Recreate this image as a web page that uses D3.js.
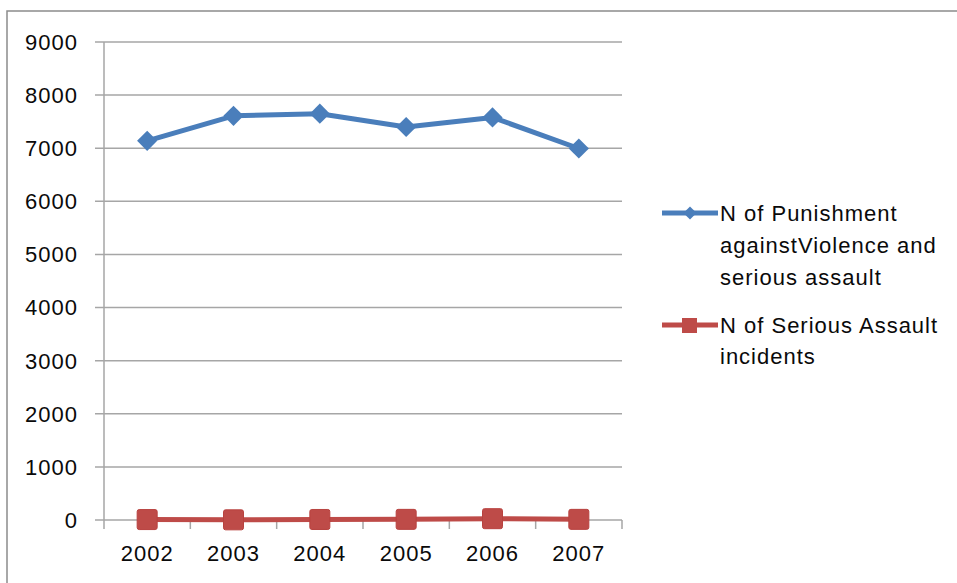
<!DOCTYPE html>
<meta charset='utf-8'>
<style>
  body { margin: 0; background: #fff; }
  svg { display: block; font-family: 'Liberation Sans', Arial, sans-serif; }
  .tickText { font-size: 22px; fill: #0a0a0a; letter-spacing: 1px; }
  .legendText { font-size: 22px; fill: #0a0a0a; letter-spacing: 1px; }
  .grid line { stroke: #a6a6a6; stroke-width: 1.5px; }
</style>
<body>
<div id='viz'></div>
<script src='https://d3js.org/d3.v7.min.js'></script>
<script>

// Data
var years = ['2002', '2003', '2004', '2005', '2006', '2007'];
var punishment = [7140, 7610, 7650, 7400, 7580, 6995];
var assault = [8, 3, 10, 12, 25, 12];
var yTicks = [0, 1000, 2000, 3000, 4000, 5000, 6000, 7000, 8000, 9000];
var seriesNames = [
  ['N of Punishment', 'againstViolence and', 'serious assault'],
  ['N of Serious Assault', 'incidents']
];

var W = 957, H = 583;
var plot = {left: 104, right: 622, top: 42, bottom: 520};

var svg = d3.select('#viz').append('svg')
    .attr('width', W)
    .attr('height', H);

// outer chart frame
svg.append('rect')
    .attr('x', 7).attr('y', 11)
    .attr('width', W + 10).attr('height', H + 10)
    .attr('fill', 'none')
    .attr('stroke', '#8c8c8c')
    .attr('stroke-width', 1.5);

var x = d3.scaleBand().domain(years).range([plot.left, plot.right]);
var y = d3.scaleLinear().domain([0, 9000]).range([plot.bottom, plot.top]);

// gridlines
svg.append('g')
    .attr('class', 'grid')
    .selectAll('line')
    .data(yTicks)
    .enter().append('line')
    .attr('x1', plot.left - 9)
    .attr('x2', plot.right)
    .attr('y1', function(d) { return y(d); })
    .attr('y2', function(d) { return y(d); });

// y axis line
svg.append('line')
    .attr('x1', plot.left).attr('x2', plot.left)
    .attr('y1', plot.top).attr('y2', plot.bottom)
    .attr('stroke', '#a6a6a6').attr('stroke-width', 1.5);

// y tick labels
svg.append('g')
    .selectAll('text')
    .data(yTicks)
    .enter().append('text')
    .attr('class', 'tickText')
    .attr('x', 78)
    .attr('y', function(d) { return y(d); })
    .attr('dy', '0.36em')
    .attr('text-anchor', 'end')
    .text(function(d) { return d; });

// x axis ticks at category boundaries
var bounds = years.map(function(d) { return x(d); }).concat([plot.right]);
svg.append('g')
    .selectAll('line')
    .data(bounds)
    .enter().append('line')
    .attr('x1', function(d) { return d; })
    .attr('x2', function(d) { return d; })
    .attr('y1', plot.bottom)
    .attr('y2', plot.bottom + 9)
    .attr('stroke', '#a6a6a6').attr('stroke-width', 1.5);

// x labels
svg.append('g')
    .selectAll('text')
    .data(years)
    .enter().append('text')
    .attr('class', 'tickText')
    .attr('x', function(d) { return x(d) + x.bandwidth() / 2; })
    .attr('y', 553)
    .attr('dy', '0.36em')
    .attr('text-anchor', 'middle')
    .text(function(d) { return d; });

var cx = function(d, i) { return x(years[i]) + x.bandwidth() / 2; };

var line = d3.line()
    .x(function(d, i) { return cx(d, i); })
    .y(function(d) { return y(d); });

// blue series
svg.append('path')
    .datum(punishment)
    .attr('d', line)
    .attr('fill', 'none')
    .attr('stroke', '#4a7ebb')
    .attr('stroke-width', 5)
    .attr('stroke-linejoin', 'round');

svg.append('g')
    .selectAll('path')
    .data(punishment)
    .enter().append('path')
    .attr('d', d3.symbol().type(d3.symbolDiamond2).size(260))
    .attr('transform', function(d, i) { return 'translate(' + cx(d, i) + ',' + y(d) + ')'; })
    .attr('fill', '#4a7ebb');

// red series
svg.append('path')
    .datum(assault)
    .attr('d', line)
    .attr('fill', 'none')
    .attr('stroke', '#be4b48')
    .attr('stroke-width', 5);

svg.append('g')
    .selectAll('rect')
    .data(assault)
    .enter().append('rect')
    .attr('x', function(d, i) { return cx(d, i) - 10; })
    .attr('y', function(d) { return y(d) - 10; })
    .attr('width', 20).attr('height', 20)
    .attr('rx', 2)
    .attr('fill', '#be4b48')
    .attr('stroke', '#b8423f')
    .attr('stroke-width', 1);

// legend
var legendY = [213, 325];
var colors = ['#4a7ebb', '#be4b48'];
var legend = svg.append('g');

legend.selectAll('line')
    .data(legendY)
    .enter().append('line')
    .attr('x1', 662).attr('x2', 718)
    .attr('y1', function(d) { return d; })
    .attr('y2', function(d) { return d; })
    .attr('stroke', function(d, i) { return colors[i]; })
    .attr('stroke-width', 5);

legend.append('path')
    .attr('d', d3.symbol().type(d3.symbolDiamond2).size(110))
    .attr('transform', 'translate(690,' + legendY[0] + ')')
    .attr('fill', colors[0]);

legend.append('rect')
    .attr('x', 682).attr('y', legendY[1] - 7)
    .attr('width', 15).attr('height', 15)
    .attr('fill', colors[1]);

seriesNames.forEach(function(lines, s) {
  legend.append('g')
    .selectAll('text')
    .data(lines)
    .enter().append('text')
    .attr('class', 'legendText')
    .attr('x', 720)
    .attr('y', function(d, i) { return legendY[s] + i * (s === 0 ? 32 : 31); })
    .attr('dy', '0.36em')
    .text(function(d) { return d; });
});

</script>
</body>
